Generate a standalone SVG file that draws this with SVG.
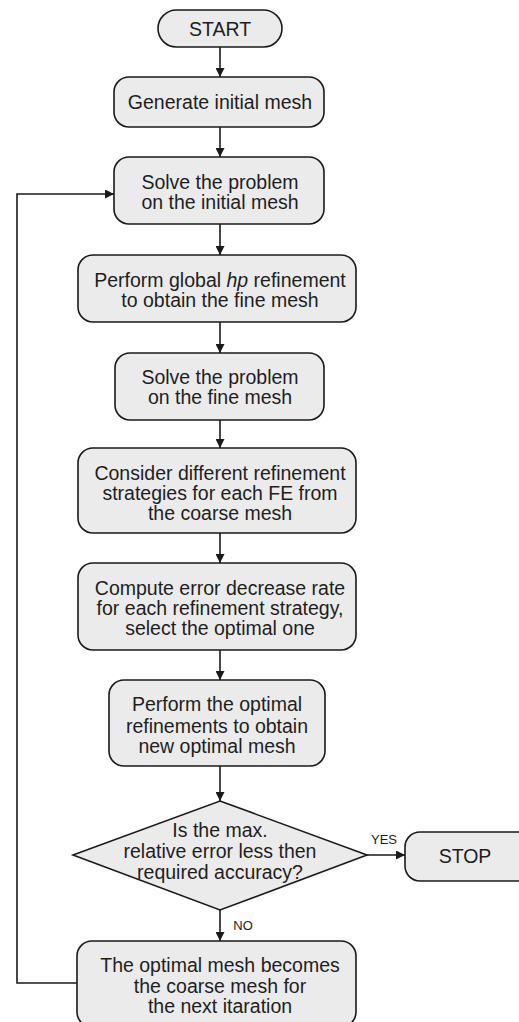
<svg xmlns="http://www.w3.org/2000/svg" width="519" height="1022" viewBox="0 0 519 1022">
<style>
.box{fill:#ebebeb;stroke:#1a1a1a;stroke-width:1.6}
.t{font-family:"Liberation Sans",Arial,sans-serif;font-size:19.5px;fill:#1e1e1e;text-anchor:middle;dominant-baseline:central}
.s{font-family:"Liberation Sans",Arial,sans-serif;font-size:13px;fill:#1e1e1e;text-anchor:middle;dominant-baseline:central}
.c{fill:none;stroke:#1a1a1a;stroke-width:1.6}
</style>
<defs>
<marker id="a" viewBox="0 0 10 10" refX="10" refY="5" markerWidth="9" markerHeight="9" markerUnits="userSpaceOnUse" orient="auto">
<path d="M0,0 L10,5 L0,10 z" fill="#1a1a1a"/>
</marker>
</defs>
<rect width="519" height="1022" fill="#fff"/>
<g id="connectors">
<line class="c" x1="220" y1="47" x2="220" y2="77" marker-end="url(#a)"/>
<line class="c" x1="220" y1="127" x2="220" y2="157" marker-end="url(#a)"/>
<line class="c" x1="220" y1="224" x2="220" y2="255" marker-end="url(#a)"/>
<line class="c" x1="220" y1="322" x2="220" y2="353" marker-end="url(#a)"/>
<line class="c" x1="220" y1="420" x2="220" y2="448" marker-end="url(#a)"/>
<line class="c" x1="220" y1="533" x2="220" y2="563" marker-end="url(#a)"/>
<line class="c" x1="220" y1="650" x2="220" y2="680" marker-end="url(#a)"/>
<line class="c" x1="220" y1="766" x2="220" y2="801" marker-end="url(#a)"/>
<line class="c" x1="367" y1="855" x2="405" y2="855" marker-end="url(#a)"/>
<line class="c" x1="220" y1="910" x2="220" y2="941" marker-end="url(#a)"/>
<polyline class="c" points="77,983 17,983 17,194 114,194" marker-end="url(#a)"/>
<text class="s" x="384" y="839">YES</text>
<text class="s" x="243" y="925">NO</text>
</g>
<g id="start">
<rect class="box" x="158" y="10" width="124" height="37" rx="18.5"/>
<text class="t" x="220" y="29">START</text>
</g>
<g id="generate">
<rect class="box" x="114" y="77" width="210" height="50" rx="15"/>
<text class="t" x="220" y="102">Generate initial mesh</text>
</g>
<g id="solve-initial">
<rect class="box" x="114" y="157" width="210" height="67" rx="15"/>
<text class="t" x="220" y="182">Solve the problem</text>
<text class="t" x="220" y="202">on the initial mesh</text>
</g>
<g id="global-hp">
<rect class="box" x="78" y="255" width="278" height="67" rx="15"/>
<text class="t" x="220" y="280">Perform global <tspan font-style="italic">hp</tspan> refinement</text>
<text class="t" x="220" y="300">to obtain the fine mesh</text>
</g>
<g id="solve-fine">
<rect class="box" x="115" y="353" width="209" height="67" rx="15"/>
<text class="t" x="220" y="377">Solve the problem</text>
<text class="t" x="220" y="397">on the fine mesh</text>
</g>
<g id="consider">
<rect class="box" x="78" y="448" width="278" height="85" rx="15"/>
<text class="t" x="220" y="473">Consider different refinement</text>
<text class="t" x="220" y="493">strategies for each FE from</text>
<text class="t" x="220" y="513">the coarse mesh</text>
</g>
<g id="compute">
<rect class="box" x="78" y="563" width="278" height="87" rx="15"/>
<text class="t" x="220" y="588">Compute error decrease rate</text>
<text class="t" x="220" y="608">for each refinement strategy,</text>
<text class="t" x="220" y="628">select the optimal one</text>
</g>
<g id="perform-optimal">
<rect class="box" x="109" y="680" width="216" height="86" rx="15"/>
<text class="t" x="217" y="704">Perform the optimal</text>
<text class="t" x="217" y="726">refinements to obtain</text>
<text class="t" x="217" y="746">new optimal mesh</text>
</g>
<g id="decision">
<polygon class="box" points="220,801 367,855 220,910 73,855"/>
<text class="t" x="220" y="830">Is the max.</text>
<text class="t" x="220" y="851">relative error less then</text>
<text class="t" x="220" y="872">required accuracy?</text>
</g>
<g id="stop">
<rect class="box" x="405" y="832" width="130" height="49" rx="15"/>
<text class="t" x="465" y="856">STOP</text>
</g>
<g id="next-iteration">
<rect class="box" x="77" y="941" width="279" height="86" rx="15"/>
<text class="t" x="220" y="965">The optimal mesh becomes</text>
<text class="t" x="220" y="986">the coarse mesh for</text>
<text class="t" x="220" y="1006">the next itaration</text>
</g>
</svg>
